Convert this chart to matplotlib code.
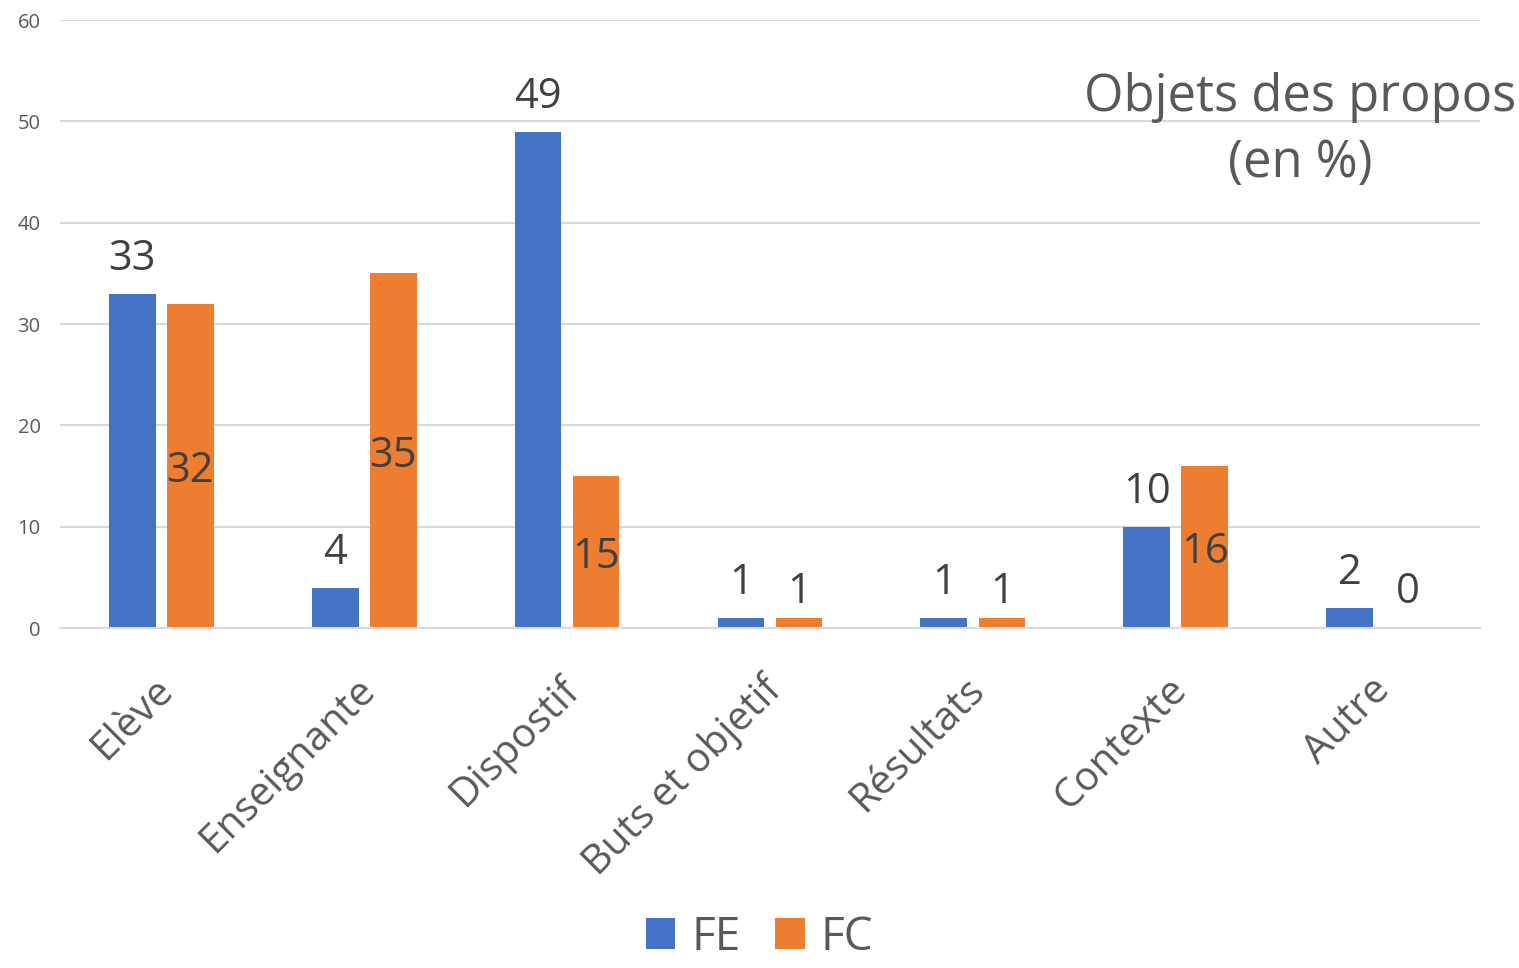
import numpy as np
import matplotlib.pyplot as plt
import matplotlib.transforms as mtransforms

plt.rcParams['font.family'] = ['Open Sans', 'DejaVu Sans']

categories = ['Elève', 'Enseignante', 'Dispostif', 'Buts et objetif',
              'Résultats', 'Contexte', 'Autre']
fe = [33, 4, 49, 1, 1, 10, 2]
fc = [32, 35, 15, 1, 1, 16, 0]

blue = '#4472C4'
orange = '#ED7D31'
grey = '#595959'
dark = '#404040'

fig = plt.figure(figsize=(15.19, 9.68), dpi=100)
ax = fig.add_axes([0.0395, 0.3512, 0.9348, 0.6281])

x = np.arange(len(categories))
w = 0.23
off = 0.143
b1 = ax.bar(x - off, fe, w, color=blue, label='FE', zorder=2)
b2 = ax.bar(x + off, fc, w, color=orange, label='FC', zorder=2)

# FE labels above the bars
for xi, v in zip(x, fe):
    ax.annotate(str(v), (xi - off, v), xytext=(0, 25), textcoords='offset points',
                ha='center', va='center', fontsize=30, color=dark)
# FC labels in the middle of the bar, above it when the bar is too short
for xi, v in zip(x, fc):
    if v > 5:
        ax.annotate(str(v), (xi + off, v / 2), xytext=(0, -3.5),
                    textcoords='offset points', ha='center', va='center',
                    fontsize=30, color=dark)
    else:
        ax.annotate(str(v), (xi + off, max(v, 1)), xytext=(0, 18.5),
                    textcoords='offset points', ha='center', va='center',
                    fontsize=30, color=dark)

ax.set_xlim(-0.5, len(categories) - 0.5)
ax.set_ylim(0, 60)
ax.set_yticks(range(0, 61, 10))
ax.yaxis.grid(True, color='#D9D9D9', linewidth=1.5, zorder=0)
ax.set_axisbelow(True)
for s in ['top', 'right', 'left']:
    ax.spines[s].set_visible(False)
ax.spines['bottom'].set_color('#D9D9D9')
ax.spines['bottom'].set_linewidth(1.5)
ax.tick_params(axis='both', length=0)
ax.tick_params(axis='y', labelsize=14.5, labelcolor=grey, pad=14)
ax.set_xticks(x)
ax.set_xticklabels(categories, rotation=45, ha='right', rotation_mode='anchor',
                   fontsize=29, color=grey)
ax.tick_params(axis='x', pad=20)
shift = mtransforms.ScaledTranslation(-9 / 100, -14 / 100, fig.dpi_scale_trans)
for lbl in ax.get_xticklabels():
    lbl.set_transform(lbl.get_transform() + shift)

fig.text(0.8558, 0.865, 'Objets des propos\n(en %)', ha='center', va='center',
         fontsize=36.5, color=grey, linespacing=1.4)

fig.legend(handles=[b1, b2], loc='lower center', bbox_to_anchor=(0.5, -0.035),
           ncol=2, frameon=False, fontsize=33, labelcolor=grey,
           handlelength=0.65, handleheight=0.65, handletextpad=0.35,
           columnspacing=0.75)

fig.savefig('out.png', dpi=100)
